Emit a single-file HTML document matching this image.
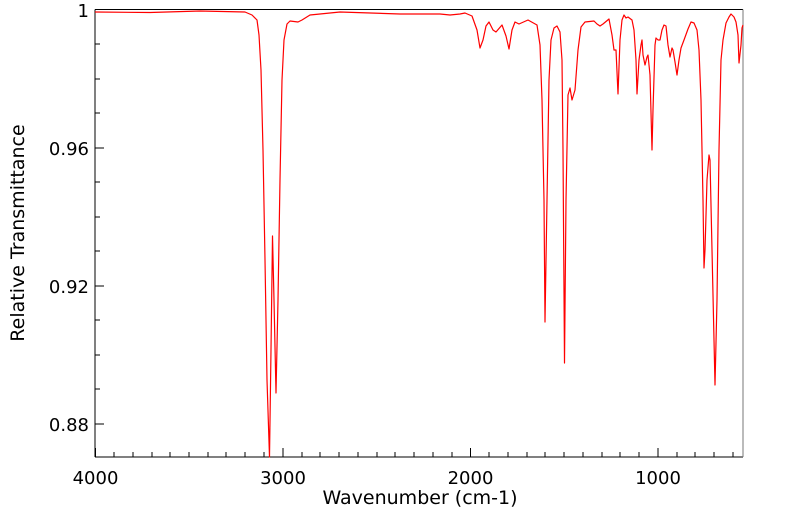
<!DOCTYPE html>
<html><head><meta charset="utf-8"><style>body{margin:0;background:#fff}svg{display:block}</style></head><body>
<svg width="799" height="516" xmlns="http://www.w3.org/2000/svg" font-family="DejaVu Sans, sans-serif">
<rect width="799" height="516" fill="#fff"/>
<g stroke="#000" stroke-width="1">
<line x1="95" y1="457" x2="95" y2="9.5"/>
<line x1="95" y1="9.5" x2="743" y2="9.5"/>
<line x1="95" y1="457" x2="743" y2="457"/>
<line x1="743" y1="9.5" x2="743" y2="457" stroke="#777"/>
<path d="M95 44h5M95 79h5M95 113h5M95 182h5M95 217h5M95 251h5M95 320h5M95 355h5M95 389h5M95 148h9M95 286h9M95 424h9"/>
<path d="M95.5 457v-9M283 457v-9M470.5 457v-9M658 457v-9"/>
<path d="M114 457v-5M133 457v-5M152 457v-5M170 457v-5M189 457v-5M208 457v-5M226 457v-5M245 457v-5M264 457v-5M302 457v-5M320 457v-5M339 457v-5M358 457v-5M377 457v-5M395 457v-5M414 457v-5M433 457v-5M452 457v-5M489 457v-5M508 457v-5M527 457v-5M545 457v-5M564 457v-5M583 457v-5M602 457v-5M620 457v-5M639 457v-5M677 457v-5M695 457v-5M714 457v-5M733 457v-5"/>
</g>
<polyline fill="none" stroke="#f00" stroke-width="1.2" stroke-linejoin="round" points="95,12 150,12.5 200,11 245,12 252,15 257,20 259,35 261,70 263,150 265,260 267,380 269.5,457 271,350 272.5,236 274,300 276,393 278,300 280,180 282,80 284,40 287,24 290,21 298,22 302,20 310,15 340,12 400,14 440,14 450,15 460,14 465,13 472,16 477,30 480,48 483,40 486,26 489,22 493,30 496,32 502,25 506,36 509,49 512,30 515,22 519,24 528,20 537,25 540,45 542,100 544,200 545,322 547,200 549,80 551,40 554,28 557,26 560,32 562,60 563,150 564.5,363 566,200 568,95 570,88 572,100 575,90 578,50 581,27 585,22 594,21 597,24 600,26 603,24 609,19 612,35 614,50 616,50 618,94 620,40 622,20 624,15 626,18 628,17 632,20 634,30 636,60 637,94 639,60 641,45 642,40 643,55 645,65 647,57 648,55 650,75 652,150 653,110 655,45 656,38 658,40 660,40 662,30 664,25 666,26 668,45 670,57 672,48 673,50 675,62 677,75 679,60 681,48 684,40 688,29 691,22 694,23 697,30 699,50 701,100 703,200 704,268 705,250 707,180 709,155 710,160 712,250 714,340 715,385 717,300 719,150 721,60 723,40 726,23 729,17 731,14 734,17 736,22 738,35 739,63 741,45 742,28 743,25"/>
<g font-size="18" fill="#000">
<g text-anchor="end">
<text x="89" y="17">1</text>
<text x="89" y="155">0.96</text>
<text x="89" y="293">0.92</text>
<text x="89" y="431">0.88</text>
</g>
<g text-anchor="middle">
<text x="95.5" y="484">4000</text>
<text x="283" y="484">3000</text>
<text x="470.5" y="484">2000</text>
<text x="658" y="484">1000</text>
<text x="420" y="504" font-size="19">Wavenumber (cm-1)</text>
<text transform="translate(24,233) rotate(-90)" font-size="19">Relative Transmittance</text>
</g>
</g>
</svg>
</body></html>
